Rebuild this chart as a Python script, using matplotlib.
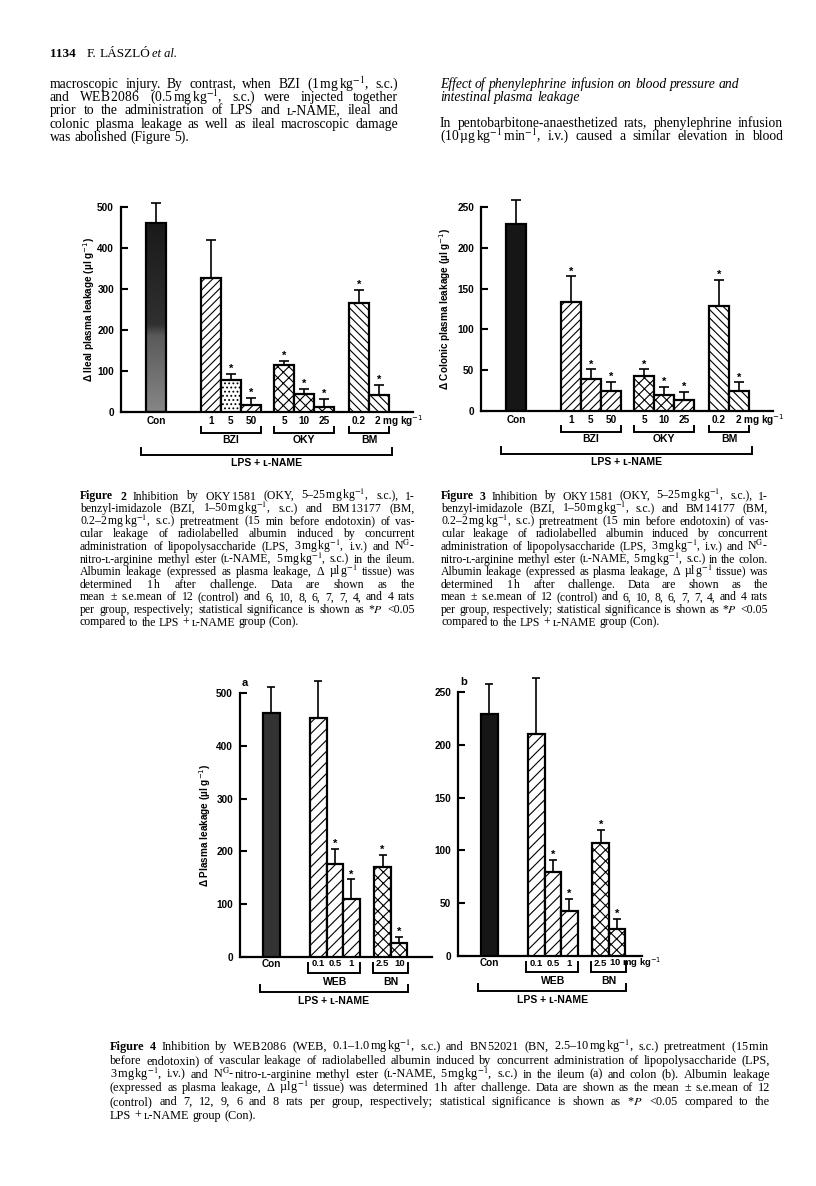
import matplotlib.pyplot as plt
import numpy as np
from matplotlib.transforms import offset_copy
from matplotlib.colors import LinearSegmentedColormap

# ---- data ----
dose_labels_23 = ['1', '5', '50', '5', '10', '25', '0.2']
groups_23 = ['BZI', 'OKY', 'BM']

# Figure 2: ileum  (Con, BZI 1/5/50, OKY 5/10/25, BM 0.2/2)
ileal_mean = [462, 328, 77, 17, 115, 45, 12, 265, 42]
ileal_sem = [48, 92, 16, 18, 10, 12, 20, 33, 25]
ileal_sig = [0, 0, 1, 1, 1, 1, 1, 1, 1]

# Figure 3: colon
colon_mean = [229, 133, 39, 25, 43, 19, 14, 129, 25]
colon_sem = [29, 32, 12, 11, 8, 10, 9, 32, 10]
colon_sig = [0, 1, 1, 1, 1, 1, 1, 1, 1]

# Figure 4: WEB 0.1/0.5/1, BN 2.5/10
dose_labels_4 = ['0.1', '0.5', '1', '2.5']
groups_4 = ['WEB', 'BN']
web_ileum_mean = [463, 453, 176, 109, 170, 27]
web_ileum_sem = [48, 70, 28, 38, 24, 11]
web_ileum_sig = [0, 0, 1, 1, 1, 1]
web_colon_mean = [229, 210, 80, 43, 107, 26]
web_colon_sem = [29, 53, 11, 11, 12, 9]
web_colon_sig = [0, 0, 1, 1, 1, 1]

plt.rcParams['hatch.linewidth'] = 0.8
W, H = 816, 1186
fig = plt.figure(figsize=(W / 100, H / 100), dpi=100)
SANS = ['Liberation Sans', 'DejaVu Sans']
SERIF = ['Liberation Serif', 'DejaVu Serif', 'DejaVu Sans']


def axes_px(x0, x1, ytop, ybot):
    return fig.add_axes([x0 / W, 1 - ybot / H, (x1 - x0) / W, (ybot - ytop) / H])


def bar_chart(ax, pos, mean, sem, sig, hatches, colors, ytop, ystep, xmax, cap):
    bars = ax.bar(pos, mean, 1.0, color=colors, edgecolor='k', linewidth=1.6, zorder=3)
    for b, h in zip(bars, hatches):
        b.set_hatch(h)
    eb = ax.errorbar(pos, mean, yerr=[np.zeros(len(mean)), sem], fmt='none', ecolor='k',
                     elinewidth=1.2, capsize=cap, capthick=1.2, zorder=2)
    for a in list(eb[1]) + list(eb[2]):
        a.set_clip_on(False)
    for p, m, s, g in zip(pos, mean, sem, sig):
        if g:
            ax.annotate('*', (p, m + s), xytext=(0, 0), textcoords='offset points', ha='center',
                        va='bottom', fontsize=8, fontweight='bold', family=SANS, annotation_clip=False)
    ax.set_xlim(0, xmax)
    ax.set_ylim(0, ytop)
    ax.spines[['top', 'right']].set_visible(False)
    for s in ['left', 'bottom']:
        ax.spines[s].set_linewidth(1.6)
    ax.set_yticks(np.arange(0, ytop + 1, ystep))
    ax.set_xticks([])
    ax.tick_params(axis='y', direction='in', length=5, width=1.5, pad=5, labelsize=7.2)
    for t in ax.get_yticklabels():
        t.set_fontweight('bold')
        t.set_family(SANS)
    ax.patch.set_visible(False)
    return bars


def under(ax, x, d, s, size=7.2, ha='center'):
    tr = offset_copy(ax.get_xaxis_transform(), fig=fig, x=0, y=-d, units='dots')
    ax.text(x, 0, s, transform=tr, ha=ha, va='center', fontsize=size, fontweight='bold',
            family=SANS, math_fontfamily='dejavusans', clip_on=False)


def bracket(ax, x0, x1, d_top, d_bot):
    h = ax.get_position().height * H
    y0, y1 = -d_top / h, -d_bot / h
    ax.plot([x0, x0, x1, x1], [y0, y1, y1, y0], transform=ax.get_xaxis_transform(),
            color='k', lw=1.4, clip_on=False, solid_joinstyle='miter')


def line(x0, x1, y, text, size, family=SERIF, justify=True, nbold=0, style='normal'):
    r = fig.canvas.get_renderer()
    items = []
    for i, w in enumerate(text.split(' ')):
        ts = [fig.text(0, 0, p, fontsize=size, family=family, style=style,
                       fontweight='bold' if i < nbold else 'normal',
                       math_fontfamily='stix', va='baseline') for p in w.split('|')]
        items.append(ts)
    widths = [[t.get_window_extent(r).width for t in ts] for ts in items]
    tot = sum(sum(w) for w in widths)
    gap = size * 100 / 72 * 0.25
    if justify and len(items) > 1:
        gap = max((x1 - x0 - tot) / (len(items) - 1), 2.5)
    x = x0
    for ts, ws in zip(items, widths):
        for t, w in zip(ts, ws):
            t.set_position((x / W, 1 - y / H))
            x += w
        x += gap
    return x


def para(x0, x1, y0, dy, lines, size, nbold=0):
    for i, s in enumerate(lines):
        line(x0, x1, y0 + i * dy, s, size, justify=i < len(lines) - 1, nbold=nbold if i == 0 else 0)


# ---- Figures 2 and 3 ----
pos23 = [1.75] + [4.5 + i for i in range(3)] + [8.15 + i for i in range(3)] + [11.9 + i for i in range(2)]
grp23 = [(1, 4), (4, 7), (7, 9)]


def fig23(ax, mean, sem, sig, hatches, ytop, ystep, ylabel, labx, mg_off):
    bars = bar_chart(ax, pos23, mean, sem, sig, hatches, ['white'] * 9, ytop, ystep, 14.6, 3.5)
    under(ax, pos23[0], 9, 'Con')
    for p, lab in zip(pos23[1:8], dose_labels_23):
        under(ax, p, 9, lab)
    under(ax, pos23[8] - mg_off, 9, '2 mg kg$^{-1}$', ha='left')
    for (a, b), g in zip(grp23, groups_23):
        bracket(ax, pos23[a] - 0.5, pos23[b - 1] + 0.5, 15, 21)
        under(ax, (pos23[a] + pos23[b - 1]) / 2, 28, g, size=7.5)
    bracket(ax, pos23[0] - 0.75, pos23[-1] + 0.65, 36, 43)
    under(ax, (pos23[0] - 0.75 + pos23[-1] + 0.65) / 2, 51, 'LPS + ʟ-NAME', size=7.5)
    ax.set_ylabel(ylabel, fontsize=7.2, fontweight='bold', family=SANS, math_fontfamily='dejavusans')
    ax.yaxis.set_label_coords(labx, 0.5)
    return bars


ax2 = axes_px(121, 413, 207, 412)
h2 = ['', '////', '....', '////', 'xxx', 'xxx', 'xxx', '\\\\\\\\', '\\\\\\\\']
b2 = fig23(ax2, ileal_mean, ileal_sem, ileal_sig, h2, 500, 100,
           'Δ Ileal plasma leakage (µl g$^{-1}$)', -0.082, 0.25)
con = b2[0]
con.set_facecolor('none')
grad = np.linspace(0, 1, 200).reshape(-1, 1)
cm = LinearSegmentedColormap.from_list('con', [(0, '#868686'), (0.4, '#5a5a5a'), (0.46, '#303030'), (1, '#1a1a1a')])
im = ax2.imshow(grad, cmap=cm, origin='lower', aspect='auto', zorder=2.5,
                extent=(con.get_x(), con.get_x() + con.get_width(), 0, con.get_height()))
im.set_clip_path(con)
ax2.set_xlim(0, 14.6)
ax2.set_ylim(0, 500)

ax3 = axes_px(481, 773, 207, 411)
h3 = ['', '////', '////', '////', 'xxx', 'xxx', '////', '\\\\\\\\', '\\\\\\\\']
b3 = fig23(ax3, colon_mean, colon_sem, colon_sig, h3, 250, 50,
           'Δ Colonic plasma leakage (µl g$^{-1}$)', -0.096, 0.2)
b3[0].set_facecolor('#161616')

# ---- Figure 4 ----
pos4 = [1.9] + [4.75 + i for i in range(3)] + [8.65 + i for i in range(2)]
grp4 = [(1, 4), (4, 6)]
h4 = ['', '///', '///', '///', 'xxx', 'xxx']


def fig4(ax, mean, sem, sig, xmax, tag, mg):
    big = max(mean) > 300
    bars = bar_chart(ax, pos4, mean, sem, sig, h4, ['white'] * 6, 500 if big else 250,
                     100 if big else 50, xmax, 3)
    under(ax, pos4[0], 7, 'Con')
    for p, lab in zip(pos4[1:5], dose_labels_4):
        under(ax, p, 7, lab, size=6.8)
    if mg:
        under(ax, pos4[5] - 0.5, 7, '10 mg kg$^{-1}$', size=6.8, ha='left')
    else:
        under(ax, pos4[5] + 0.05, 7, '10', size=6.8)
    for (a, b), g in zip(grp4, groups_4):
        bracket(ax, pos4[a] - 0.6, pos4[b - 1] + 0.55, 6, 16)
        under(ax, (pos4[a] + pos4[b - 1]) / 2, 25, g, size=7.5)
    bracket(ax, pos4[0] - 0.7, pos4[-1] + 0.55, 28, 35)
    under(ax, (pos4[0] - 0.7 + pos4[-1] + 0.55) / 2, 44, 'LPS + ʟ-NAME', size=7.5)
    ax.text(0.01, 1.02, tag, transform=ax.transAxes, fontsize=8, fontweight='bold',
            family=SANS, ha='left', va='bottom')
    return bars


ax4a = axes_px(240, 432, 693, 957)
b4a = fig4(ax4a, web_ileum_mean, web_ileum_sem, web_ileum_sig, 11.64, 'a', False)
b4a[0].set_facecolor('#333333')
ax4a.set_ylabel('Δ Plasma leakage (µl g$^{-1}$)', fontsize=7.2, fontweight='bold', family=SANS,
                math_fontfamily='dejavusans')
ax4a.yaxis.set_label_coords(-0.14, 0.5)

ax4b = axes_px(458, 642, 692, 956)
b4b = fig4(ax4b, web_colon_mean, web_colon_sem, web_colon_sig, 11.15, 'b', True)
b4b[0].set_facecolor('#161616')

# ---- page text ----
line(50, 0, 57, '1134', 9.5, justify=False, nbold=1)
line(87, 0, 57, 'F. LÁSZLÓ', 9.5, justify=False)
fig.text(152 / W, 1 - 57 / H, 'et al.', fontsize=9, family=SERIF, style='italic', va='baseline')

left_col = [
    'macroscopic injury. By contrast, when BZI (1$\\,$mg$\\,$kg$^{-1}$, s.c.)',
    'and WEB$\\,$2086 (0.5$\\,$mg$\\,$kg$^{-1}$, s.c.) were injected together',
    'prior to the administration of LPS and ʟ-NAME, ileal and',
    'colonic plasma leakage as well as ileal macroscopic damage',
    'was abolished (Figure 5).',
]
para(50, 398, 88, 13.2, left_col, 9.8)
line(440, 783, 88, 'Effect of phenylephrine infusion on blood pressure and', 9.8, justify=False, style='italic')
line(440, 783, 101, 'intestinal plasma leakage', 9.8, justify=False, style='italic')
line(440, 783, 127, 'In pentobarbitone-anaesthetized rats, phenylephrine infusion', 9.8)
line(440, 783, 140, '(10$\\,$µg$\\,$kg$^{-1}\\,$min$^{-1}$, i.v.) caused a similar elevation in blood', 9.8)


def cap23(num, bm, site):
    return [
        'Figure %d Inhibition by OKY$\\,$1581 (OKY, 5–25$\\,$mg$\\,$kg$^{-1}$, s.c.), 1-' % num,
        'benzyl-imidazole (BZI, 1–50$\\,$mg$\\,$kg$^{-1}$, s.c.) and BM$\\,$%s (BM,' % bm,
        '0.2–2$\\,$mg$\\,$kg$^{-1}$, s.c.) pretreatment (15 min before endotoxin) of vas-',
        'cular leakage of radiolabelled albumin induced by concurrent',
        'administration of lipopolysaccharide (LPS, 3$\\,$mg$\\,$kg$^{-1}$, i.v.) and N$^{\\mathrm{G}}$-',
        'nitro-ʟ-arginine methyl ester (ʟ-NAME, 5$\\,$mg$\\,$kg$^{-1}$, s.c.) in the %s.' % site,
        'Albumin leakage (expressed as plasma leakage, Δ µl$\\,$g$^{-1}$ tissue) was',
        'determined 1$\\,$h after challenge. Data are shown as the',
        'mean ± s.e.mean of 12 (control) and 6, 10, 8, 6, 7, 7, 4, and 4 rats',
        'per group, respectively; statistical significance is shown as *$P$ <0.05',
        'compared to the LPS + ʟ-NAME group (Con).',
    ]


para(80, 415, 499.5, 12.6, cap23(2, '13177', 'ileum'), 8.5, nbold=2)
para(441, 768, 499.5, 12.6, cap23(3, '14177', 'colon'), 8.5, nbold=2)

cap4 = [
    'Figure 4 Inhibition by WEB$\\,$2086 (WEB, 0.1–1.0$\\,$mg$\\,$kg$^{-1}$, s.c.) and BN$\\,$52021 (BN, 2.5–10$\\,$mg$\\,$kg$^{-1}$, s.c.) pretreatment (15$\\,$min',
    'before endotoxin) of vascular leakage of radiolabelled albumin induced by concurrent administration of lipopolysaccharide (LPS,',
    '3$\\,$mg$\\,$kg$^{-1}$, i.v.) and N$^{\\mathrm{G}}$-|nitro-ʟ-arginine methyl ester (ʟ-NAME, 5$\\,$mg$\\,$kg$^{-1}$, s.c.) in the ileum (a) and colon (b). Albumin leakage',
    '(expressed as plasma leakage, Δ µl$\\,$g$^{-1}$ tissue) was determined 1$\\,$h after challenge. Data are shown as the mean ± s.e.mean of 12',
    '(control) and 7, 12, 9, 6 and 8 rats per group, respectively; statistical significance is shown as *$P$ <0.05 compared to the',
    'LPS + ʟ-NAME group (Con).',
]
para(110, 770, 1050, 13.8, cap4, 8.8, nbold=2)

fig.savefig('out.png', dpi=100)
